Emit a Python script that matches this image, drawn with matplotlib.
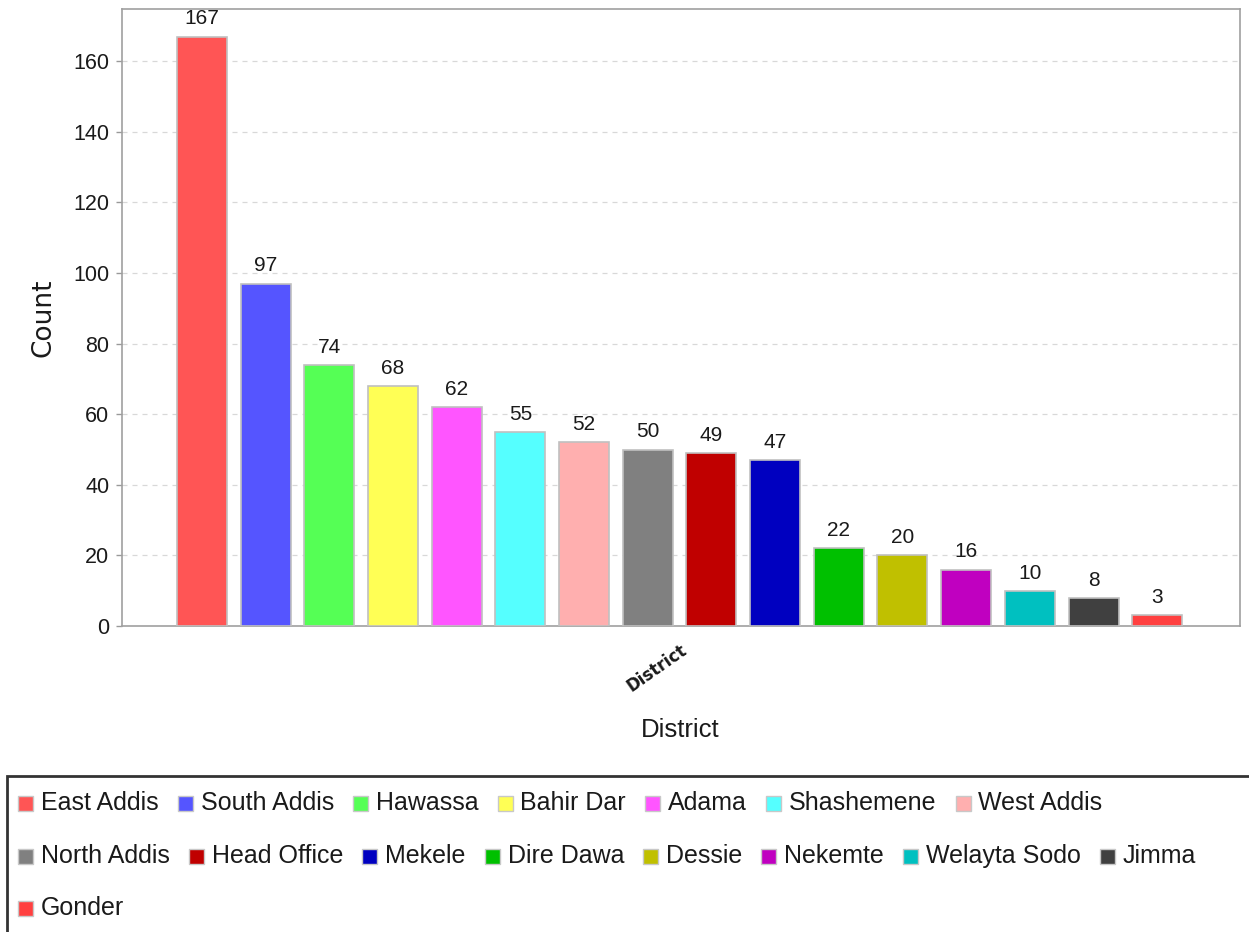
import matplotlib
matplotlib.use("Agg")
import matplotlib.pyplot as plt
from matplotlib.patches import Rectangle

districts = ["East Addis", "South Addis", "Hawassa", "Bahir Dar", "Adama",
             "Shashemene", "West Addis", "North Addis", "Head Office", "Mekele",
             "Dire Dawa", "Dessie", "Nekemte", "Welayta Sodo", "Jimma", "Gonder"]
counts = [167, 97, 74, 68, 62, 55, 52, 50, 49, 47, 22, 20, 16, 10, 8, 3]
colors = ["#FF5555", "#5555FF", "#55FF55", "#FFFF55", "#FF55FF", "#55FFFF",
          "#FFAFAF", "#808080", "#C00000", "#0000C0", "#00C000", "#C0C000",
          "#C000C0", "#00C0C0", "#404040", "#FF4040"]
yticks = [0, 20, 40, 60, 80, 100, 120, 140, 160]

W, H = 1249, 932
fig = plt.figure(figsize=(W / 100, H / 100), dpi=100)
fig.patch.set_facecolor("white")

def fx(px):
    return px / W

def fy(py):
    return 1 - py / H

ax = fig.add_axes([fx(122), fy(626), fx(1240) - fx(122), fy(9) - fy(626)])
x = list(range(len(counts)))
ax.bar(x, counts, width=0.785, color=colors, edgecolor="#C0C0C0", linewidth=1.2, zorder=3)
for xi, v in zip(x, counts):
    ax.text(xi, v + 2.3, str(v), ha="center", va="bottom", fontsize=15,
            family="Liberation Sans", color="#1a1a1a", zorder=4, clip_on=False)

ax.set_xlim(-1.256, 16.30)
ax.set_ylim(0, 174.8)
ax.set_yticks(yticks)
ax.set_yticklabels([str(t) for t in yticks], family="Liberation Sans", fontsize=15.5)
ax.tick_params(axis="y", direction="out", length=4, width=1, color="#999999",
               pad=5, labelcolor="#1a1a1a")
ax.set_xticks([])
ax.yaxis.grid(True, linestyle=(0, (4, 4)), color="#D8D8D8", linewidth=0.9, zorder=0)
for s in ax.spines.values():
    s.set_color("#A0A0A0")
    s.set_linewidth(1.2)

ax.set_ylabel("Count", family="DejaVu Sans", fontsize=19, labelpad=12, color="#1a1a1a")

# category label under the single group, drawn slanted
fig.text(fx(657), fy(668), "District", rotation=35, ha="center", va="center",
         fontsize=12, family="DejaVu Sans", fontweight="bold",
         color="#1a1a1a")
fig.text(fx(680), fy(730), "District", ha="center", va="center",
         fontsize=18.5, family="Liberation Sans", color="#1a1a1a")

# legend frame
fig.patches.append(Rectangle((fx(7), fy(960)), fx(1300) - fx(7), fy(776) - fy(960),
                             transform=fig.transFigure, facecolor="none",
                             edgecolor="#333333", linewidth=2.0))

# flow layout legend
renderer = fig.canvas.get_renderer()
rows_y = [803, 856, 908]
max_right = 1240
box = 15
cx, row = 18, 0
for name, col in zip(districts, colors):
    t = fig.text(0, 0, name, fontsize=18, family="Liberation Sans", va="center",
                 ha="left", color="#1a1a1a")
    tw = t.get_window_extent(renderer).width
    item_w = box + 8 + tw
    if cx + item_w > max_right:
        row += 1
        cx = 18
    yc = rows_y[row]
    fig.patches.append(Rectangle((fx(cx), fy(yc + box / 2)), fx(box), box / H,
                                 transform=fig.transFigure, facecolor=col,
                                 edgecolor="#C8C8C8", linewidth=1.0))
    t.set_position((fx(cx + box + 8), fy(yc)))
    cx += item_w + 19

fig.savefig("out.png", dpi=100)
